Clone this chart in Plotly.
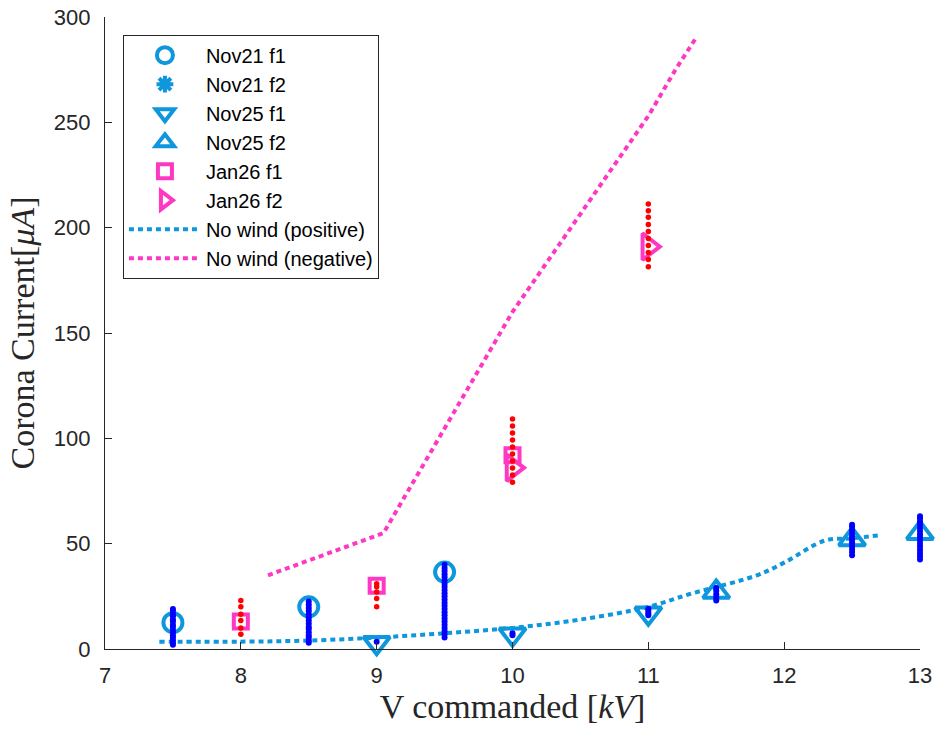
import plotly.graph_objects as go

# ---- data ----
nov21_f1_x = [7.5, 8.5, 9.5]
nov21_f1_y = [12.5, 20.0, 36.5]
nov21_f2_x = []
nov21_f2_y = []
nov25_f1_x = [9.0, 10.0, 11.0]
nov25_f1_y = [3.0, 7.0, 17.0]
nov25_f2_x = [11.5, 12.5, 13.0]
nov25_f2_y = [27.0, 52.0, 55.0]
jan26_f1_x = [8.0, 9.0, 10.0]
jan26_f1_y = [13.0, 30.0, 92.0]
jan26_f2_x = [10.0, 11.0]
jan26_f2_y = [86.0, 191.0]

# raw samples (blue = Nov, red = Jan)
blue_raw = {
    7.5: [2.0, 3.0, 4.2, 5.5, 6.5, 8.0, 9.0, 10.5, 11.5, 13.0, 14.0, 15.5, 16.5, 18.0, 19.0],
    8.5: [3.0, 4.0, 5.5, 6.5, 8.0, 9.5, 10.5, 12.0, 13.5, 15.0, 16.5, 18.0, 19.5, 21.0, 22.5],
    9.0: [3.5],
    9.5: [5.5, 7.0, 8.5, 10.0, 11.5, 13.0, 14.5, 16.0, 17.5, 19.0, 20.5, 22.0, 23.5, 25.0,
          26.5, 28.0, 29.5, 31.0, 32.5, 34.0, 35.5, 37.0, 38.5, 40.0],
    10.0: [6.5, 7.5],
    11.0: [16.0, 17.0, 18.0, 19.0],
    11.5: [23.0, 24.5, 26.0, 27.5, 29.0],
    12.5: [44.5, 46.0, 47.5, 49.0, 50.5, 52.0, 53.5, 55.0, 56.5, 58.0, 59.0],
    13.0: [42.5, 44.0, 45.5, 47.0, 48.5, 50.0, 51.5, 53.0, 54.5, 56.0, 57.5, 59.0, 60.5, 62.0, 63.0],
}
red_raw = {
    8.0: [7.0, 10.0, 13.5, 16.5, 20.0, 23.0],
    9.0: [20.0, 24.0, 27.0, 29.5, 31.0],
    10.0: [79.2, 82.6, 85.9, 89.2, 92.6, 95.9, 99.2, 102.5, 105.8, 109.2],
    11.0: [181.4, 184.9, 188.2, 191.5, 194.9, 198.2, 201.5, 204.9, 208.0, 211.2],
}

nowind_pos_x = [7.4, 8.0, 8.5, 9.0, 9.5, 10.0, 10.5, 11.0, 11.3, 11.8, 12.0, 12.3, 12.5, 12.7]
nowind_pos_y = [3.5, 3.5, 4.0, 5.4, 7.5, 10.0, 14.0, 20.0, 26.0, 35.0, 41.0, 51.5, 52.5, 54.0]
nowind_neg_x = [8.2, 9.05, 10.0, 11.0, 11.2, 11.35]
nowind_neg_y = [35.0, 55.0, 160.0, 253.0, 275.0, 290.0]

x_ticks = [7, 8, 9, 10, 11, 12, 13]
y_ticks = [0, 50, 100, 150, 200, 250, 300]

# ---- styles ----
CYAN = "#0E97DD"
MAG = "#FF38C4"
AX = "#262626"

bx, by = [], []
for k, v in blue_raw.items():
    bx += [k] * len(v)
    by += v
rx, ry = [], []
for k, v in red_raw.items():
    rx += [k] * len(v)
    ry += v

fig = go.Figure()

def add_marker(name, x, y, symbol, color, size, lw):
    fig.add_trace(go.Scatter(
        x=x if len(x) else [None], y=y if len(y) else [None], mode="markers", name=name,
        cliponaxis=False,
        marker=dict(symbol=symbol, color=color, size=size, line=dict(width=lw, color=color)),
    ))

add_marker("Nov21 f1", nov21_f1_x, nov21_f1_y, "circle-open", CYAN, 19, 4)
add_marker("Nov21 f2", nov21_f2_x, nov21_f2_y, "asterisk-open", CYAN, 14, 4)
add_marker("Nov25 f1", nov25_f1_x, nov25_f1_y, "triangle-down-open", CYAN, 23, 4)
add_marker("Nov25 f2", nov25_f2_x, nov25_f2_y, "triangle-up-open", CYAN, 23, 4)
add_marker("Jan26 f1", jan26_f1_x, jan26_f1_y, "square-open", MAG, 14, 4)
add_marker("Jan26 f2", jan26_f2_x, jan26_f2_y, "triangle-right-open", MAG, 23, 4)

fig.add_trace(go.Scatter(x=nowind_pos_x, y=nowind_pos_y, mode="lines", name="No wind (positive)",
                         line=dict(color=CYAN, width=4, dash="5px,4px", shape="spline")))
fig.add_trace(go.Scatter(x=nowind_neg_x, y=nowind_neg_y, mode="lines", name="No wind (negative)",
                         line=dict(color=MAG, width=4, dash="5px,4px")))

fig.add_trace(go.Scatter(x=bx, y=by, mode="markers", showlegend=False, cliponaxis=False,
                         marker=dict(color="#0000FF", size=6, line=dict(width=0))))
fig.add_trace(go.Scatter(x=rx, y=ry, mode="markers", showlegend=False, cliponaxis=False,
                         marker=dict(color="#FF0000", size=5.5, line=dict(width=0))))

tickfont = dict(family="Liberation Sans, Arial", size=22, color=AX)
titlefont = dict(family="Liberation Serif, Times New Roman", size=34, color=AX)
fig.update_layout(
    width=937, height=729,
    margin=dict(l=105, r=17, t=17, b=80, autoexpand=False),
    plot_bgcolor="white", paper_bgcolor="white",
    showlegend=True,
    legend=dict(
        x=0.022, y=0.972, xanchor="left", yanchor="top",
        bgcolor="white", bordercolor=AX, borderwidth=1,
        font=dict(family="Liberation Sans, Arial", size=20, color="black"),
        itemwidth=72, traceorder="normal",
    ),
    xaxis=dict(
        range=[7, 13], tickvals=x_ticks, ticktext=[str(t) for t in x_ticks],
        showgrid=False, zeroline=False, showline=True, linecolor=AX, linewidth=1.3,
        ticks="inside", ticklen=7, tickcolor=AX, tickwidth=1.3, tickfont=tickfont,
        ticklabelstandoff=6, automargin=False,
        title=dict(text="V commanded [<i>kV</i>]", font=titlefont, standoff=6),
    ),
    yaxis=dict(
        range=[0, 300], tickvals=y_ticks, ticktext=[str(t) for t in y_ticks],
        showgrid=False, zeroline=False, showline=True, linecolor=AX, linewidth=1.3,
        ticks="inside", ticklen=7, tickcolor=AX, tickwidth=1.3, tickfont=tickfont,
        ticklabelstandoff=9, automargin=False,
        title=dict(text="Corona Current[<i>μA</i>]", font=titlefont, standoff=8),
    ),
)

fig.write_html("out.html")
